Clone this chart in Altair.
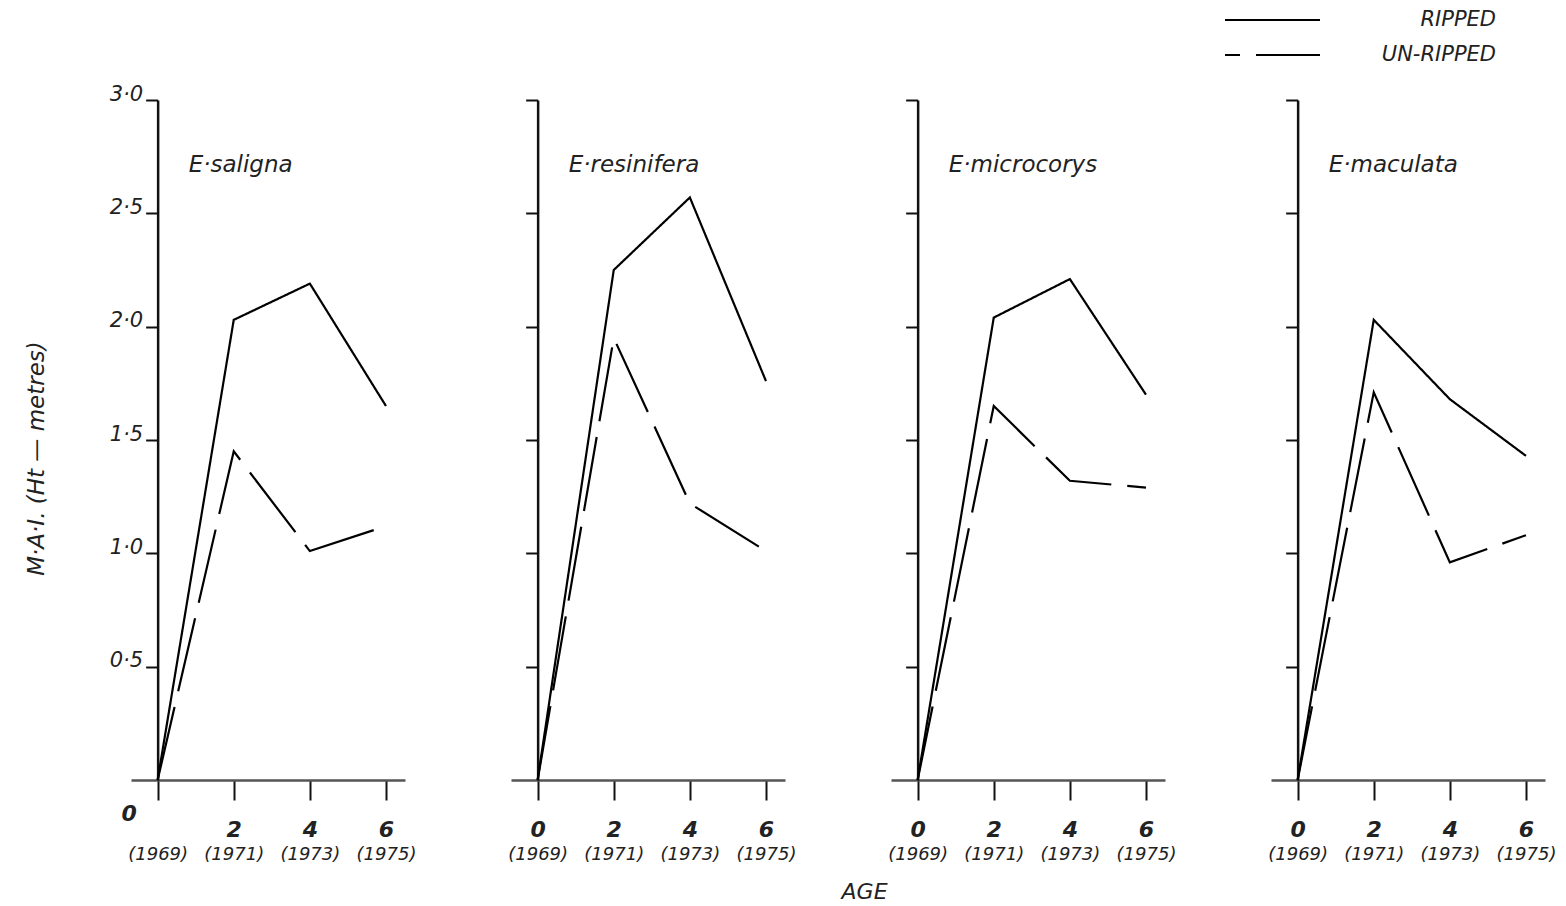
import altair as alt
import pandas as pd

# ---- data ----
species = ["E·saligna", "E·resinifera", "E·microcorys", "E·maculata"]
ages = [0, 2, 4, 6]
base_year = 1969
treatments = ["RIPPED", "UN-RIPPED"]

saligna_ripped = [0.0, 2.03, 2.19, 1.65]
saligna_unripped = [0.0, 1.45, 1.01, 1.12]
resinifera_ripped = [0.0, 2.25, 2.57, 1.76]
resinifera_unripped = [0.0, 1.95, 1.22, 1.01]
microcorys_ripped = [0.0, 2.04, 2.21, 1.70]
microcorys_unripped = [0.0, 1.65, 1.32, 1.29]
maculata_ripped = [0.0, 2.03, 1.68, 1.43]
maculata_unripped = [0.0, 1.71, 0.96, 1.08]

series = {
    "E·saligna": (saligna_ripped, saligna_unripped),
    "E·resinifera": (resinifera_ripped, resinifera_unripped),
    "E·microcorys": (microcorys_ripped, microcorys_unripped),
    "E·maculata": (maculata_ripped, maculata_unripped),
}

rows = []
for sp in species:
    for tr, vals in zip(treatments, series[sp]):
        for a, v in zip(ages, vals):
            rows.append({"species": sp, "treatment": tr, "age": a, "mai": v})
df = pd.DataFrame(rows)

FONT = "DejaVu Sans"
INK = "#222"
W, H = 274, 680
XD = [-0.7, 6.5]
Y_OFF = -(0 - XD[0]) / (XD[1] - XD[0]) * W

legend = alt.Legend(
    title=None, orient="none", legendX=1130.5, legendY=-91,
    symbolType="M-4.75,0H4.75", symbolSize=400, symbolStrokeWidth=2,
    symbolStrokeColor="black", symbolFillColor="transparent",
    symbolDashOffset=60,
    labelAlign="right", labelOffset=212.5, labelFontSize=21,
    labelFontStyle="italic", labelFont=FONT, labelColor=INK,
    rowPadding=14,
)


def panel(i, sp):
    d = df[df.species == sp]
    first = i == 0
    yk = dict(
        values=[0.5, 1.0, 1.5, 2.0, 2.5, 3.0], offset=Y_OFF, tickSize=12,
        tickWidth=2, domainWidth=2.5, domainColor="#111", tickColor="#111",
        grid=False, labels=first,
    )
    if first:
        yk.update(
            title="M·A·I.  (Ht — metres)", titleFontSize=23,
            titleFontStyle="italic", titleFontWeight="normal", titleFont=FONT,
            titleColor=INK, titlePadding=61, titleY=358,
            labelExpr="replace(format(datum.value, '.1f'), '.', '·')",
            labelFontSize=21, labelFontStyle="italic", labelFont=FONT,
            labelColor=INK, labelBaseline="alphabetic", labelPadding=3,
        )
    else:
        yk.update(title=None)
    yaxis = alt.Axis(**yk)
    xscale = alt.Scale(domain=XD, nice=False, zero=False)
    yscale = alt.Scale(domain=[0, 3], nice=False)
    nk = dict(
        values=ages, tickSize=20, tickWidth=2, domainWidth=2.5,
        domainColor="#555", tickColor="#111", grid=False, title=None,
        labelFontSize=22, labelFontStyle="italic", labelFontWeight="bold",
        labelFont=FONT, labelColor=INK, labelPadding=19, labelFlush=False,
    )
    if first:
        nk.update(
            labelOffset={"condition": {"test": "datum.value == 0", "value": -29}, "value": 0},
            labelPadding={"condition": {"test": "datum.value == 0", "value": 3}, "value": 19},
        )
    num_axis = alt.Axis(**nk)
    year_axis = alt.Axis(
        values=ages, orient="bottom", domain=False, ticks=False, grid=False,
        title=None, labelExpr=f"'(' + ({base_year} + datum.value) + ')'",
        labelFontSize=18, labelFontStyle="italic", labelFont=FONT,
        labelColor=INK, labelPadding=65, labelFlush=False,
    )
    lines = alt.Chart(d).mark_line(color="black", strokeWidth=2.2).encode(
        x=alt.X("age:Q", scale=xscale, axis=num_axis),
        y=alt.Y("mai:Q", scale=yscale, axis=yaxis),
        strokeDash=alt.StrokeDash(
            "treatment:N",
            scale=alt.Scale(domain=treatments, range=[[1, 0], [75, 16]]),
            legend=legend,
        ),
    )
    years = alt.Chart(d).mark_point(opacity=0).encode(
        x=alt.X("age:Q", scale=xscale, axis=year_axis),
        y=alt.Y("mai:Q", scale=yscale, axis=yaxis),
    )
    title = alt.TitleParams(
        sp, anchor="start", frame="group", dx=-Y_OFF + 31,
        offset=-94 if first else -78,
        fontSize=23, fontStyle="italic", fontWeight="normal", font=FONT,
        color=INK,
    )
    return alt.layer(lines, years).resolve_axis(x="independent").properties(
        width=W, height=H, title=title
    )


chart = alt.hconcat(*[panel(i, sp) for i, sp in enumerate(species)]).properties(
    spacing=106, bounds="flush", background="white",
    padding={"left": 17, "top": 1, "right": 0, "bottom": 0},
    title=alt.TitleParams(
        "AGE", orient="bottom", anchor="middle", dx=74, offset=19,
        fontSize=22, fontStyle="italic", fontWeight="normal", font=FONT,
        color=INK,
    ),
).resolve_scale(strokeDash="shared").resolve_legend(strokeDash="shared").configure_view(
    strokeWidth=0, stroke="transparent"
)

chart.save("out.html", embed_options={"renderer": "svg", "actions": False})
